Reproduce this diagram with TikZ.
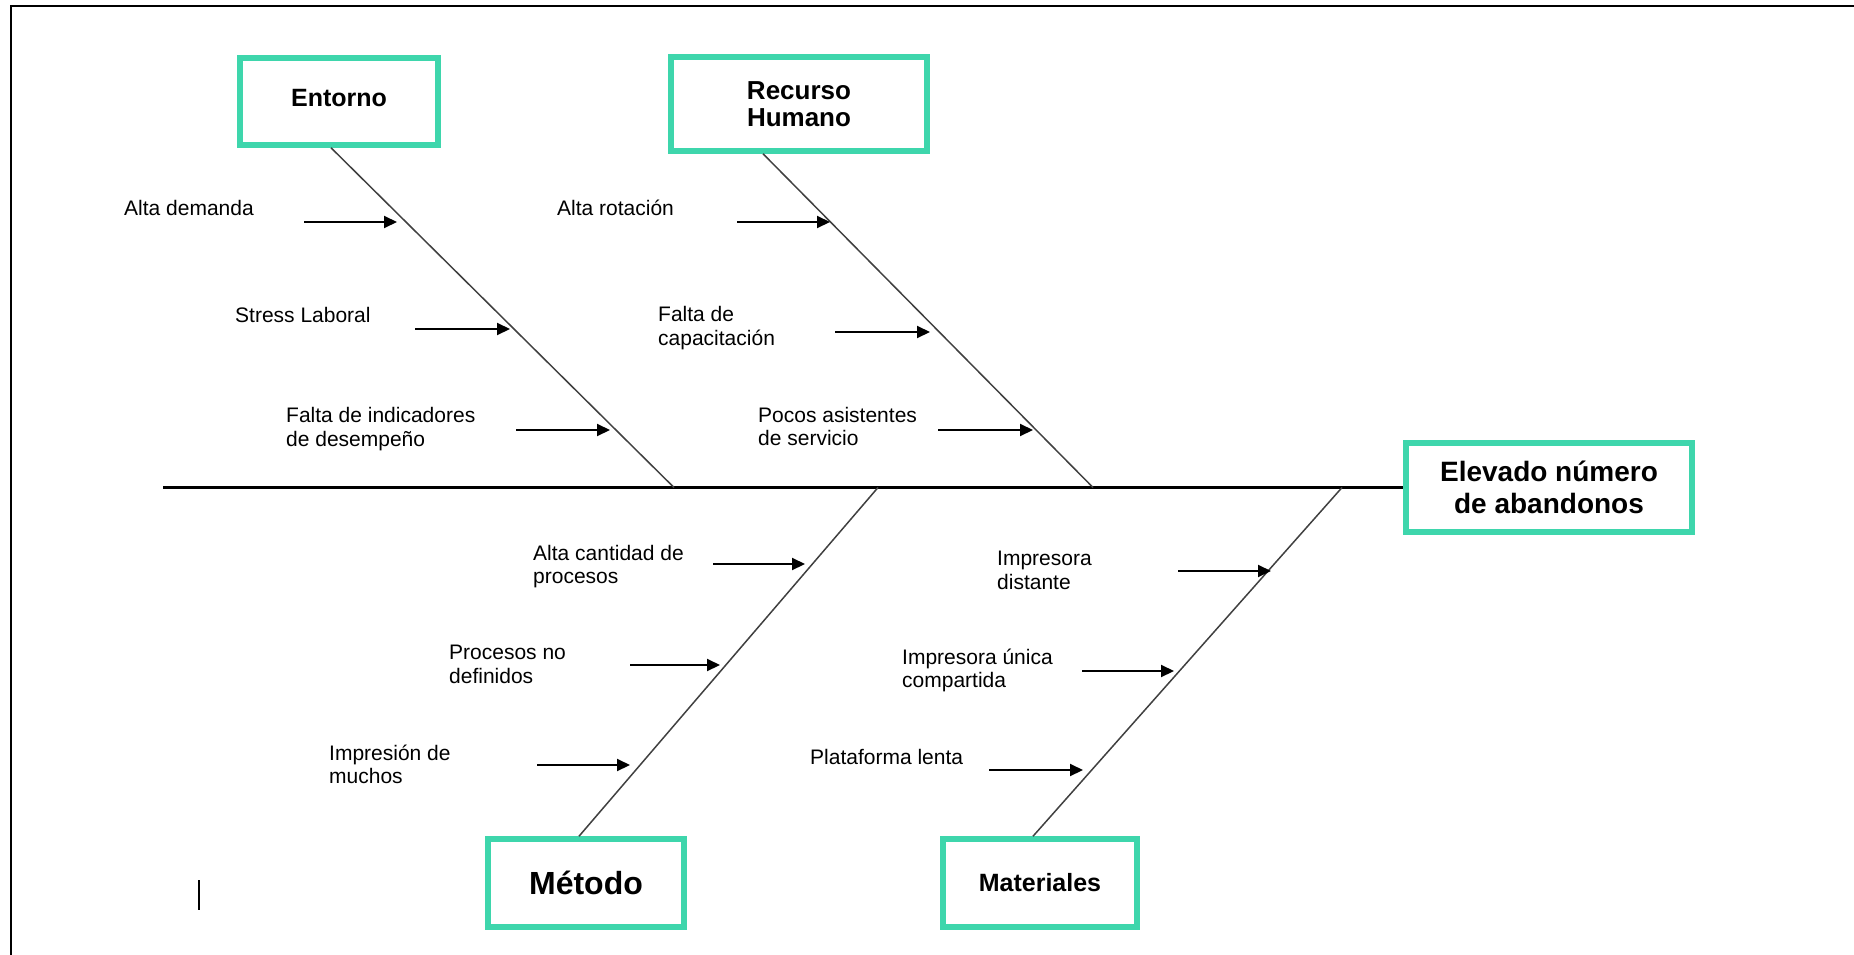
\documentclass[tikz,border=0pt]{standalone}
\usepackage{fontspec}
\setmainfont{Liberation Sans}
\usetikzlibrary{arrows.meta}
\definecolor{fishgreen}{RGB}{62,214,172}
\definecolor{bonegrey}{RGB}{64,64,64}
\begin{document}
\begin{tikzpicture}[x=1pt,y=-1pt,
  catbox/.style={draw=fishgreen, line width=5.5pt, inner sep=0pt, align=center},
  cause/.style={anchor=west, inner sep=0pt, align=left,
    font=\fontsize{21}{23.5}\selectfont,
    execute at begin node=\strut, execute at end node=\strut},
  bone/.style={draw=bonegrey, line width=1.5pt},
  spine/.style={draw=black, line width=2.2pt},
  causearrow/.style={draw=black, line width=2pt, -{Triangle[length=13pt,width=12pt]}},
]
\useasboundingbox (0,0) rectangle (1854,955);

% page frame (top and left edges)
\draw[line width=2.8pt] (11,955) -- (11,6) -- (1854,6);

% category boxes and the effect
\node[catbox, minimum width=198pt, minimum height=87pt, text depth=8pt,
  font=\fontsize{25}{30}\selectfont\bfseries] (ent) at (339,101.5) {Entorno};
\node[catbox, minimum width=256pt, minimum height=94pt,
  font=\fontsize{26}{27}\selectfont\bfseries] (rh) at (799,104) {Recurso\\Humano};
\node[catbox, minimum width=196pt, minimum height=88pt,
  font=\fontsize{32}{36}\selectfont\bfseries] (met) at (586,883) {Método};
\node[catbox, minimum width=194pt, minimum height=88pt,
  font=\fontsize{25}{30}\selectfont\bfseries] (mat) at (1040,883) {Materiales};
\node[catbox, minimum width=286pt, minimum height=89pt,
  font=\fontsize{28}{32}\selectfont\bfseries] (eff) at (1549,487.5) {Elevado número\\de abandonos};

% spine and the points where the bones meet it
\coordinate (tail) at (163,487.5);
\coordinate (jent) at (674,487.5);
\coordinate (jrh)  at (1093,487.5);
\coordinate (jmet) at (878,487.5);
\coordinate (jmat) at (1342,487.5);
\draw[spine] (tail) -- (eff.west);

% bones
\draw[bone] ([xshift=-8pt]ent.south) -- (jent);
\draw[bone] ([xshift=-36pt]rh.south) -- (jrh);
\draw[bone] ([xshift=-7pt]met.north) -- (jmet);
\draw[bone] ([xshift=-7pt]mat.north) -- (jmat);

% causes: Entorno
\node[cause] (c1) at (124,211) {Alta demanda};
\node[cause] (c2) at (235,318) {Stress Laboral};
\node[cause] (c3) at (286,430.5) {Falta de indicadores\\de desempeño};
\coordinate (a1s) at (304,222);  \coordinate (a1e) at (397,222);
\coordinate (a2s) at (415,329);  \coordinate (a2e) at (510,329);
\coordinate (a3s) at (516,430);  \coordinate (a3e) at (610,430);
\draw[causearrow] (a1s) -- (a1e);
\draw[causearrow] (a2s) -- (a2e);
\draw[causearrow] (a3s) -- (a3e);

% causes: Recurso Humano
\node[cause] (c4) at (557,211) {Alta rotación};
\node[cause] (c5) at (658,329.5) {Falta de\\capacitación};
\node[cause] (c6) at (758,430) {Pocos asistentes\\de servicio};
\coordinate (a4s) at (737,222);  \coordinate (a4e) at (830,222);
\coordinate (a5s) at (835,332);  \coordinate (a5e) at (930,332);
\coordinate (a6s) at (938,430);  \coordinate (a6e) at (1033,430);
\draw[causearrow] (a4s) -- (a4e);
\draw[causearrow] (a5s) -- (a5e);
\draw[causearrow] (a6s) -- (a6e);

% causes: Método
\node[cause] (c7) at (533,568) {Alta cantidad de\\procesos};
\node[cause] (c8) at (449,668) {Procesos no\\definidos};
\node[cause] (c9) at (329,768) {Impresión de\\muchos};
\coordinate (a7s) at (713,564);  \coordinate (a7e) at (805,564);
\coordinate (a8s) at (630,665);  \coordinate (a8e) at (720,665);
\coordinate (a9s) at (537,765);  \coordinate (a9e) at (630,765);
\draw[causearrow] (a7s) -- (a7e);
\draw[causearrow] (a8s) -- (a8e);
\draw[causearrow] (a9s) -- (a9e);

% causes: Materiales
\node[cause] (c10) at (997,574) {Impresora\\distante};
\node[cause] (c11) at (902,672) {Impresora única\\compartida};
\node[cause] (c12) at (810,760) {Plataforma lenta};
\coordinate (a10s) at (1178,571); \coordinate (a10e) at (1271,571);
\coordinate (a11s) at (1082,671); \coordinate (a11e) at (1174,671);
\coordinate (a12s) at (989,770);  \coordinate (a12e) at (1083,770);
\draw[causearrow] (a10s) -- (a10e);
\draw[causearrow] (a11s) -- (a11e);
\draw[causearrow] (a12s) -- (a12e);

% text cursor mark
\coordinate (curtop) at (199,880);
\coordinate (curbot) at (199,910);
\draw[line width=2pt] (curtop) -- (curbot);

\end{tikzpicture}
\end{document}
